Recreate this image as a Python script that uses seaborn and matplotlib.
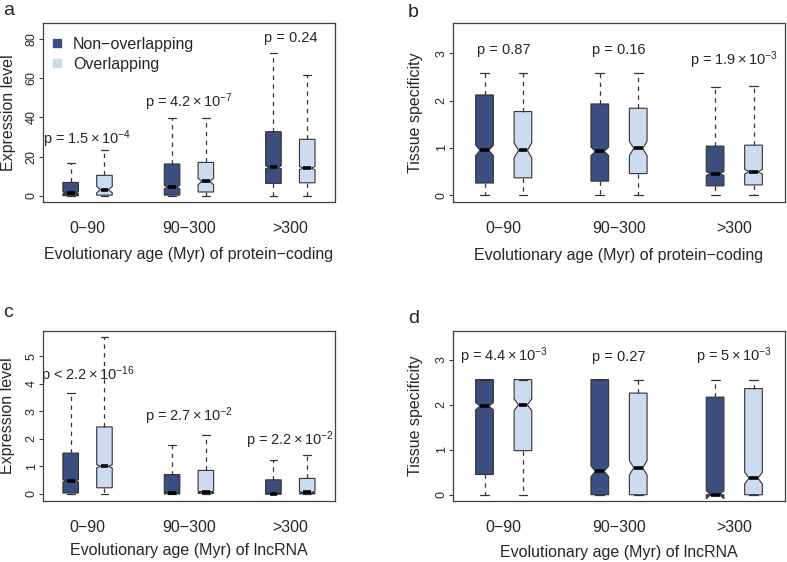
import numpy as np
import pandas as pd
import matplotlib.pyplot as plt
from matplotlib.path import Path
from matplotlib.lines import Line2D
import seaborn as sns

sns.set_style("ticks")
plt.rcParams['font.family'] = ['Liberation Sans', 'DejaVu Sans']
plt.rcParams['mathtext.fontset'] = 'custom'
plt.rcParams['mathtext.rm'] = 'Liberation Sans'
plt.rcParams['mathtext.it'] = 'Liberation Sans:italic'
plt.rcParams['mathtext.bf'] = 'Liberation Sans:bold'

ages = ["0\u221290", "90\u2212300", ">300"]
groups = ["Non\u2212overlapping", "Overlapping"]
colors = ["#3b4e7e", "#ccdbf0"]
box_pos = [1, 2, 4, 5, 7, 8]

# boxes in order: 0-90 non/ovl, 90-300 non/ovl, >300 non/ovl
# (a) expression level, protein-coding
a_lo = [0, 0, 0, 0, 0, 0]
a_q1 = [0, 0.3, 0.3, 1.9, 6.3, 6.6]
a_med = [1.4, 3.1, 4.4, 7.3, 14.5, 14.1]
a_q3 = [6.8, 10.4, 16.2, 17.0, 32.7, 28.8]
a_hi = [16.7, 23.1, 39.8, 39.8, 72.9, 61.8]
a_notch = [0.5, 1.6, 0.8, 1.6, 0.7, 0.8]
a_p = [r"p = $1.5\times10^{-4}$", r"p = $4.2\times10^{-7}$", "p = 0.24"]
a_py = [29.1, 48.0, 80.5]

# (b) tissue specificity, protein-coding
b_lo = [0, 0, 0, 0, 0, 0]
b_q1 = [0.26, 0.37, 0.30, 0.46, 0.20, 0.22]
b_med = [0.95, 0.95, 0.93, 0.99, 0.46, 0.50]
b_q3 = [2.12, 1.77, 1.93, 1.84, 1.04, 1.06]
b_hi = [2.59, 2.59, 2.59, 2.59, 2.28, 2.31]
b_notch = [0.11, 0.16, 0.09, 0.15, 0.04, 0.05]
b_p = ["p = 0.87", "p = 0.16", r"p = $1.9\times10^{-3}$"]
b_py = [3.06, 3.06, 2.85]

# (c) expression level, lncRNA
c_lo = [0, 0, 0, 0, 0, 0]
c_q1 = [0.03, 0.22, 0, 0.02, 0, 0]
c_med = [0.47, 1.0, 0.04, 0.07, 0.01, 0.05]
c_q3 = [1.48, 2.43, 0.70, 0.85, 0.51, 0.56]
c_hi = [3.67, 5.68, 1.78, 2.15, 1.24, 1.42]
c_notch = [0.04, 0.06, 0.02, 0.03, 0.02, 0.03]
c_p = [r"p < $2.2\times10^{-16}$", r"p = $2.7\times10^{-2}$", r"p = $2.2\times10^{-2}$"]
c_py = [4.32, 2.82, 1.94]

# (d) tissue specificity, lncRNA
d_lo = [0, 0, 0, 0, 0, 0]
d_q1 = [0.45, 0.98, 0, 0, 0, 0]
d_med = [1.97, 2.0, 0.52, 0.60, 0.0, 0.37]
d_q3 = [2.56, 2.56, 2.56, 2.26, 2.17, 2.36]
d_hi = [2.56, 2.56, 2.56, 2.56, 2.55, 2.56]
d_notch = [0.08, 0.13, 0.12, 0.16, 0.09, 0.13]
d_p = [r"p = $4.4\times10^{-3}$", "p = 0.27", r"p = $5\times10^{-3}$"]
d_py = [3.07, 3.07, 3.07]

EDGE = "#333333"
TXT = "#262626"


def draw_panel(ax, lo, q1, med, q3, hi, notch, ptext, py, ylim, yticks, ylabel, xlabel):
    rows = []
    for i, p in enumerate(box_pos):
        for v in (lo[i], q1[i], med[i], q3[i], hi[i]):
            rows.append({"pos": p, "value": v, "group": groups[i % 2]})
    df = pd.DataFrame(rows)
    sns.boxplot(data=df, x="pos", y="value", hue="group", hue_order=groups,
                palette=colors, saturation=1, native_scale=True, dodge=False,
                width=0.46, whis=(0, 100), showfliers=False, linecolor=EDGE,
                linewidth=0.8, legend=False, ax=ax, shownotches=True,
                whiskerprops=dict(linestyle=(0, (3.5, 3.5)), linewidth=0.9),
                capprops=dict(linestyle="-", linewidth=0.9),
                medianprops=dict(color="black", linewidth=2.6))

    # redraw notches with the widths
    for patch in ax.patches:
        v = patch.get_path().vertices
        left, right = v[:, 0].min(), v[:, 0].max()
        c = (left + right) / 2
        i = box_pos.index(int(round(c)))
        q = (right - left) / 4
        nlo, nhi = med[i] - notch[i], med[i] + notch[i]
        xs = [left, right, right, c + q, right, right, left, left, c - q, left, left]
        ys = [q1[i], q1[i], nlo, med[i], nhi, q3[i], q3[i], nhi, med[i], nlo, q1[i]]
        patch.set_path(Path(np.column_stack([xs, ys]), closed=True))

    for k in range(3):
        ax.text(1.5 + 3 * k, py[k], ptext[k], ha="center", va="center",
                fontsize=10.5, color=TXT)

    ax.set_xlim(0.18, 8.82)
    ax.set_ylim(*ylim)
    ax.set_xticks([1.5, 4.5, 7.5], ages)
    ax.set_yticks(yticks)
    ax.tick_params(axis="x", length=0, pad=13.8, labelsize=11.5, colors=TXT)
    ax.tick_params(axis="y", length=3, width=0.8, pad=0.8, labelsize=9,
                   labelrotation=90, color="#404040", labelcolor=TXT)
    for t in ax.get_yticklabels():
        t.set_va("center")
    for s in ax.spines.values():
        s.set_linewidth(0.9)
        s.set_color("#404040")
    ax.set_xlabel(xlabel, fontsize=11.5, color=TXT)
    ax.set_ylabel(ylabel, fontsize=11.5, color=TXT)


fig = plt.figure(figsize=(7.87, 5.62), dpi=100)
ax_a = fig.add_axes([0.0546, 0.6406, 0.3710, 0.3185])
ax_b = fig.add_axes([0.5756, 0.6406, 0.4219, 0.3185])
ax_c = fig.add_axes([0.0546, 0.1085, 0.3710, 0.3025])
ax_d = fig.add_axes([0.5756, 0.1085, 0.4219, 0.3025])

draw_panel(ax_a, a_lo, a_q1, a_med, a_q3, a_hi, a_notch, a_p, a_py,
           (-3.2, 88.2), [0, 20, 40, 60, 80], "Expression level",
           "Evolutionary age (Myr) of protein\u2212coding")
draw_panel(ax_b, b_lo, b_q1, b_med, b_q3, b_hi, b_notch, b_p, b_py,
           (-0.14, 3.64), [0, 1, 2, 3], "Tissue specificity",
           "Evolutionary age (Myr) of protein\u2212coding")
draw_panel(ax_c, c_lo, c_q1, c_med, c_q3, c_hi, c_notch, c_p, c_py,
           (-0.26, 5.91), [0, 1, 2, 3, 4, 5], "Expression level",
           "Evolutionary age (Myr) of lncRNA")
draw_panel(ax_d, d_lo, d_q1, d_med, d_q3, d_hi, d_notch, d_p, d_py,
           (-0.14, 3.64), [0, 1, 2, 3], "Tissue specificity",
           "Evolutionary age (Myr) of lncRNA")

for ax, lx in [(ax_a, -0.0925), (ax_b, -0.090), (ax_c, -0.096), (ax_d, -0.090)]:
    ax.yaxis.set_label_coords(lx, 0.5)
for ax, ly in [(ax_a, -0.25), (ax_b, -0.257), (ax_c, -0.247), (ax_d, -0.259)]:
    ax.xaxis.set_label_coords(0.5, ly)

handles = [Line2D([], [], marker="s", ls="none", markersize=6, color=c) for c in colors]
ax_a.legend(handles, groups, loc="upper left", bbox_to_anchor=(0.0, 0.958),
            borderaxespad=0, frameon=False, fontsize=11.5, handlelength=1.0,
            handletextpad=0.48, labelspacing=0.3, labelcolor=TXT)

for x, y, s in [(0.004, 0.973, "a"), (0.518, 0.970, "b"), (0.004, 0.436, "c"), (0.518, 0.425, "d")]:
    fig.text(x, y, s, fontsize=14, va="baseline", ha="left", color=TXT)

fig.savefig("out.png", dpi=100)
